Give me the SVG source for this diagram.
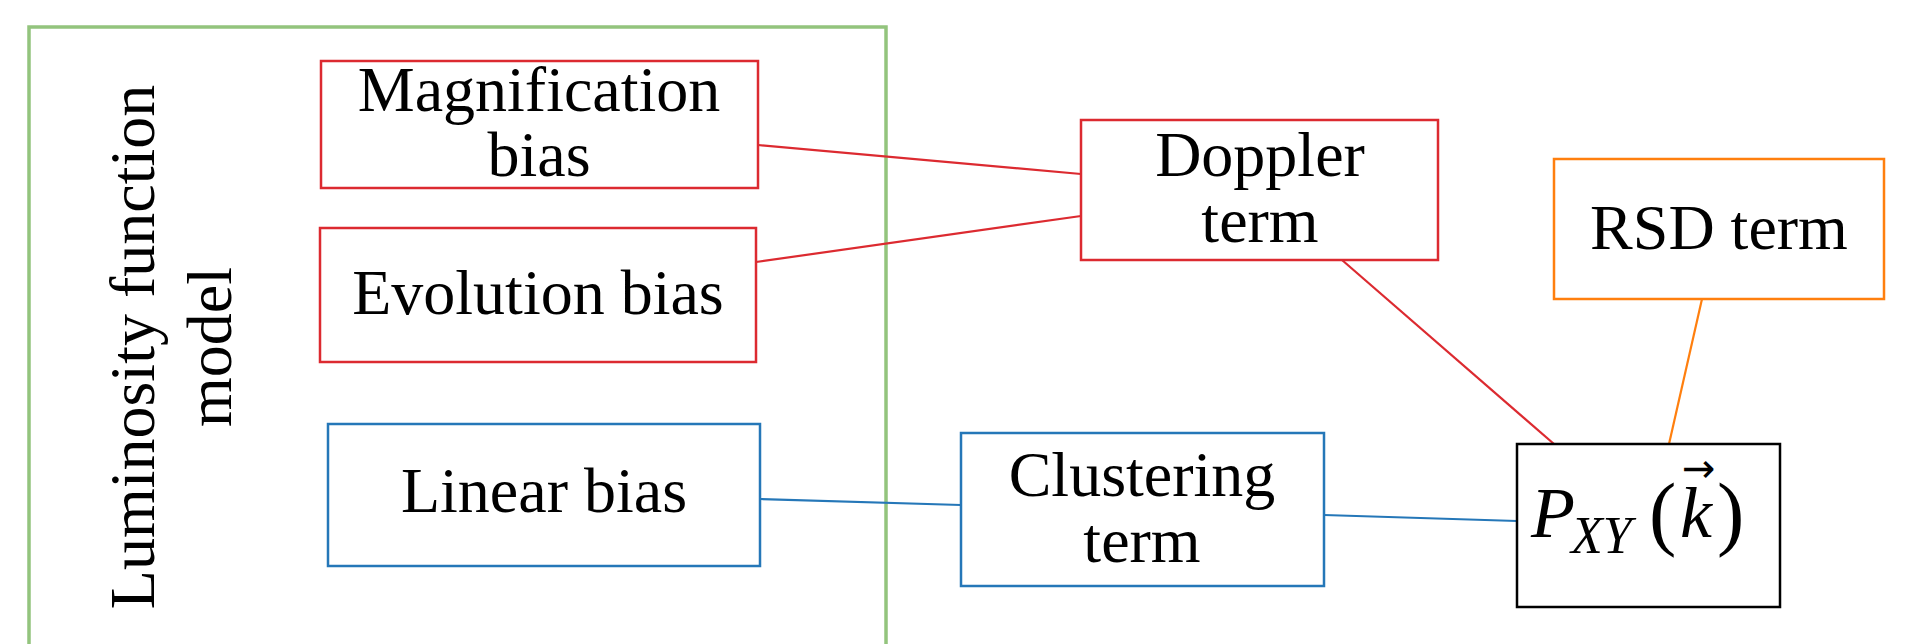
<svg xmlns="http://www.w3.org/2000/svg" width="1913" height="644" viewBox="0 0 1913 644">
<style>
.box{fill:#fff;stroke-width:2.5}
.red{stroke:#dc2a30}
.blue{stroke:#2577b8}
.orange{stroke:#ff7f0e}
.black{stroke:#000}
.t{font-family:"Liberation Serif","Times New Roman",serif;font-size:64px;fill:#000;text-anchor:middle}
.m{font-family:"Liberation Serif","DejaVu Serif",serif;fill:#000}
.i{font-style:italic}
.c line{stroke-width:2.2}
</style>
<rect width="1913" height="644" fill="#fff"/>
<g id="container">
<rect x="29" y="27" width="857" height="640" fill="none" stroke="#93c47d" stroke-width="3.5"/>
<text class="t" transform="translate(154,347) rotate(-90)" x="0" y="0">Luminosity function</text>
<text class="t" transform="translate(231,347) rotate(-90)" x="0" y="0">model</text>
</g>
<g id="connectors" class="c">
<line x1="758" y1="145" x2="1081" y2="174" class="red"/>
<line x1="756" y1="262" x2="1081" y2="216" class="red"/>
<line x1="760" y1="499" x2="961" y2="505" class="blue"/>
<line x1="1324" y1="515" x2="1517" y2="521" class="blue"/>
<line x1="1342" y1="260" x2="1554" y2="444" class="red"/>
<line x1="1702" y1="299" x2="1669" y2="444" class="orange"/>
</g>
<g id="magnification">
<rect class="box red" x="321" y="61" width="437" height="127"/>
<text class="t" x="539" y="111">Magnification</text>
<text class="t" x="539" y="176">bias</text>
</g>
<g id="evolution">
<rect class="box red" x="320" y="228" width="436" height="134"/>
<text class="t" x="538" y="314">Evolution bias</text>
</g>
<g id="linear">
<rect class="box blue" x="328" y="424" width="432" height="142"/>
<text class="t" x="544" y="512">Linear bias</text>
</g>
<g id="doppler">
<rect class="box red" x="1081" y="120" width="357" height="140"/>
<text class="t" x="1260" y="176">Doppler</text>
<text class="t" x="1260" y="242">term</text>
</g>
<g id="rsd">
<rect class="box orange" x="1554" y="159" width="330" height="140"/>
<text class="t" x="1719" y="249">RSD term</text>
</g>
<g id="clustering">
<rect class="box blue" x="961" y="433" width="363" height="153"/>
<text class="t" x="1142" y="496">Clustering</text>
<text class="t" x="1142" y="562">term</text>
</g>
<g id="pxy">
<rect class="box black" x="1517" y="444" width="263" height="163" stroke-width="3"/>
<text class="m"><tspan class="i" x="1531" y="537" font-size="72">P</tspan><tspan class="i" x="1571" y="553" font-size="52">XY</tspan><tspan x="1649" y="540" font-size="82">(</tspan><tspan class="i" x="1680" y="537" font-size="72">k</tspan><tspan x="1682" y="482" font-size="40" font-family="DejaVu Sans,sans-serif">→</tspan><tspan x="1717" y="540" font-size="82">)</tspan></text>
</g>
</svg>
